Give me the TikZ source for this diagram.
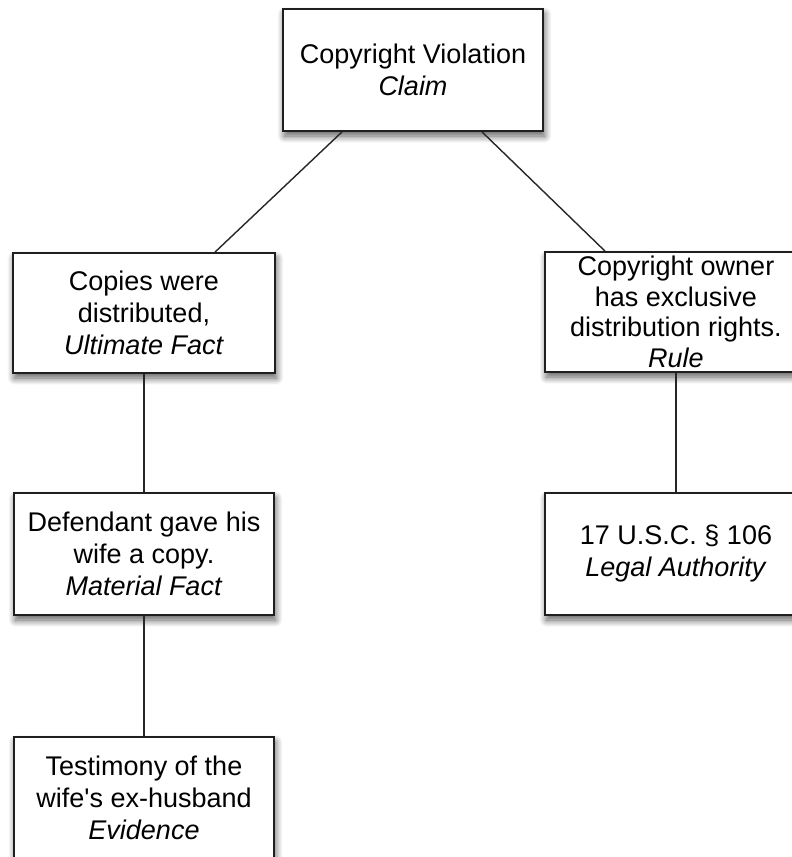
\documentclass[tikz,border=0pt]{standalone}
\usepackage{fontspec}
\setmainfont{Liberation Sans}
\newfontfamily\plainfont{Liberation Sans}
\usetikzlibrary{calc,shadows.blur}
\tikzset{
  argbox/.style={draw=black!88, line width=1.8pt, fill=white, rectangle,
    minimum width=260pt, minimum height=122pt, inner sep=0pt, align=center,
    font=\fontsize{27}{32}\selectfont,
    blur shadow={shadow xshift=1.5pt, shadow yshift=-5pt, shadow blur radius=7pt,
      shadow blur steps=12, shadow opacity=65}},
  link/.style={draw=black!85, line width=1.4pt}
}
\begin{document}
\begin{tikzpicture}[x=1pt,y=-1pt]
\useasboundingbox (0,0) rectangle (792,857);
\clip (0,0) rectangle (792,857);
\node[argbox] (claim) at (413,70) {Copyright Violation\\\textit{Claim}};
\node[argbox, minimum width=262pt, minimum height=120pt] (ult) at (144,313) {Copies were\\distributed,\\\textit{Ultimate Fact}};
\node[argbox, minimum width=262pt, minimum height=120pt, font=\fontsize{27}{30.5}\selectfont] (rule) at (676,312) {Copyright owner\\has exclusive\\distribution rights.\\\textit{Rule}};
\node[argbox] (mat) at (144,554) {Defendant gave his\\wife a copy.\\\textit{Material Fact}};
\node[argbox, minimum width=262pt] (auth) at (676,554) {17 U.S.C. § 106\\\textit{Legal Authority}};
\node[argbox] (evid) at (144,798) {Testimony of the\\wife{\plainfont\fontsize{27}{32}\selectfont '}s ex-husband\\\textit{Evidence}};
\draw[link] ($(claim.south)+(-71,0)$) -- ($(ult.north)+(71,0)$);
\draw[link] ($(claim.south)+(69,0)$) -- ($(rule.north)+(-71,0)$);
\draw[link] (ult.south) -- (mat.north);
\draw[link] (mat.south) -- (evid.north);
\draw[link] (rule.south) -- (auth.north);
\end{tikzpicture}
\end{document}
